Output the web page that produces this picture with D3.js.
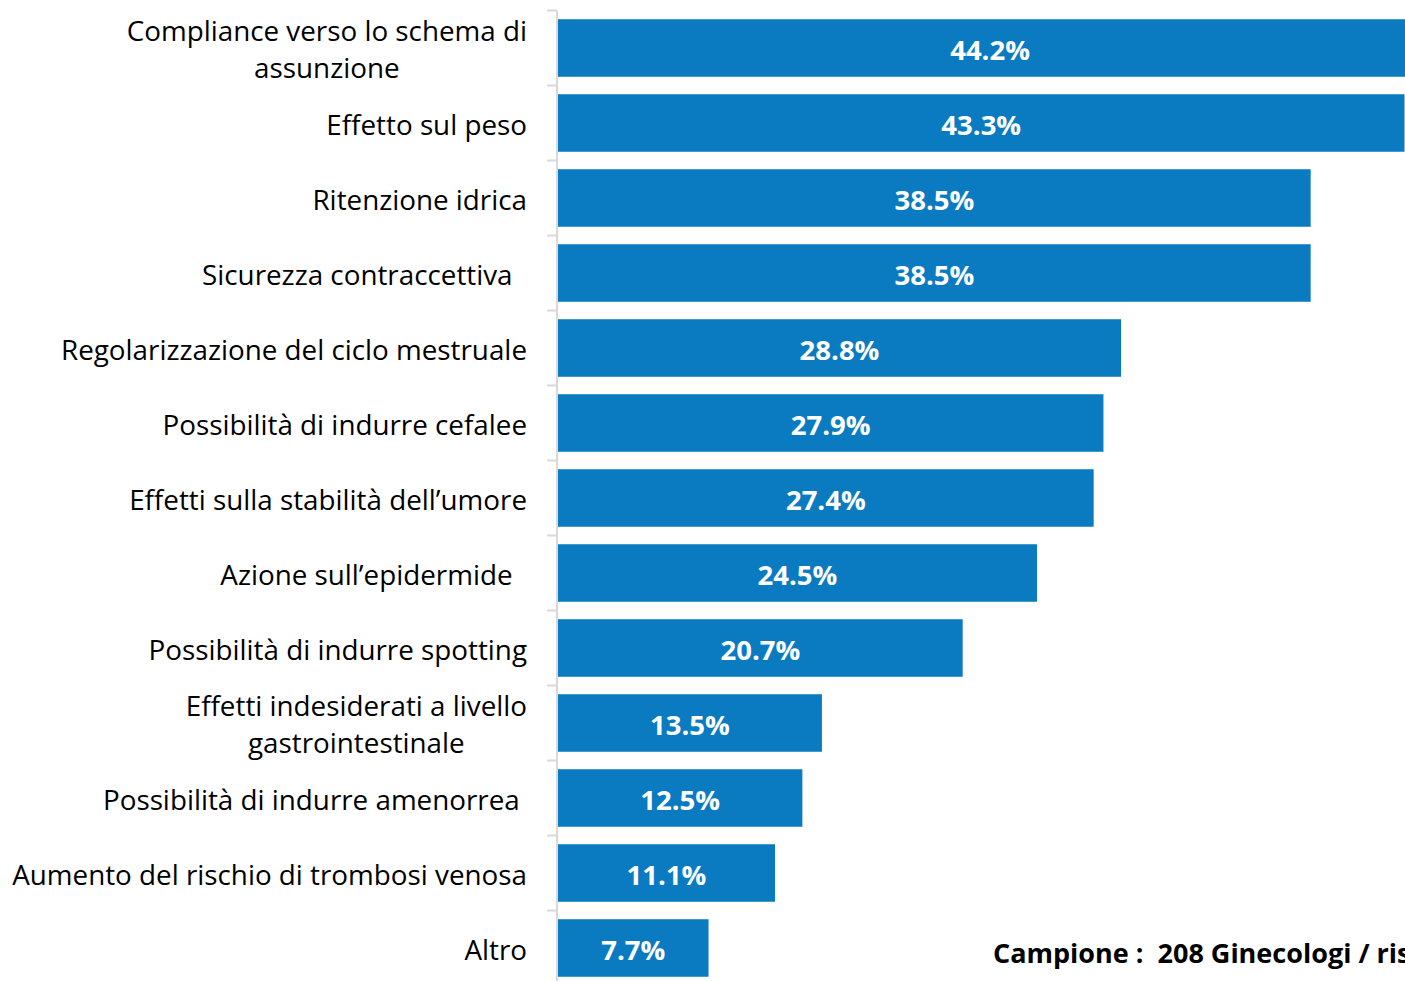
<!DOCTYPE html>
<html>
<head>
<meta charset="utf-8">
<script src="https://cdn.jsdelivr.net/npm/d3@7"></script>
<style>
  html, body { margin: 0; padding: 0; background: #fff; overflow: hidden; }
  svg { display: block; font-family: "Open Sans", "Noto Sans", sans-serif; }
  text { white-space: pre; }
</style>
</head>
<body>
<div id="chart"></div>
<script>
let width = 1405;
let height = 981;

// categories, top to bottom (\n = line break, trailing spaces kept as in the original)
let categories = [
    "Compliance verso lo schema di\nassunzione",
    "Effetto sul peso",
    "Ritenzione idrica",
    "Sicurezza contraccettiva  ",
    "Regolarizzazione del ciclo mestruale",
    "Possibilità di indurre cefalee",
    "Effetti sulla stabilità dell\u2019umore",
    "Azione sull\u2019epidermide  ",
    "Possibilità di indurre spotting",
    "Effetti indesiderati a livello\ngastrointestinale",
    "Possibilità di indurre amenorrea ",
    "Aumento del rischio di trombosi venosa",
    "Altro",
];
let values = [44.2, 43.3, 38.5, 38.5, 28.8, 27.9, 27.4, 24.5, 20.7, 13.5, 12.5, 11.1, 7.7];
let footnote = "Campione :  208 Ginecologi / rispondenti";

let barColour = "#0a7bc1";
let axisColour = "#d9d9d9";

let svg = d3.select("#chart").append("svg")
    .attr("width", width)
    .attr("height", height);

let x = d3.scaleLinear()
    .domain([0, 50])
    .range([558, 558 + 50 * 19.55]);

let y = d3.scaleBand()
    .domain(categories)
    .range([10.5, 10.5 + categories.length * 75])
    .paddingInner(0.233)
    .paddingOuter(0.1165);

// axis: vertical line plus ticks between categories
let axisX = x(0) - 1;
let gAxis = svg.append("g").attr("class", "axis");
gAxis.append("line")
    .attr("x1", axisX).attr("x2", axisX)
    .attr("y1", y.range()[0]).attr("y2", y.range()[1])
    .attr("stroke", axisColour).attr("stroke-width", 2);
let tickPos = categories.map(d => y(d) - y.step() * y.paddingOuter());
tickPos.push(y.range()[1]);
gAxis.selectAll(".tick")
    .data(tickPos)
    .enter().append("line")
    .attr("class", "tick")
    .attr("x1", axisX - 10).attr("x2", axisX)
    .attr("y1", d => d).attr("y2", d => d)
    .attr("stroke", axisColour).attr("stroke-width", 2);

// bars
svg.append("g").selectAll("rect")
    .data(values)
    .enter().append("rect")
    .attr("x", x(0))
    .attr("y", (d, i) => y(categories[i]))
    .attr("width", d => x(d) - x(0))
    .attr("height", y.bandwidth())
    .attr("fill", barColour);

// value labels
let fmt = d3.format(".1f");
svg.append("g").selectAll("text")
    .data(values)
    .enter().append("text")
    .attr("x", d => (x(0) + x(d)) / 2)
    .attr("y", (d, i) => y(categories[i]) + y.bandwidth() / 2)
    .attr("dy", "0.42em")
    .attr("text-anchor", "middle")
    .attr("fill", "#fff")
    .attr("font-weight", "bold")
    .attr("font-size", 27.5)
    .text(d => fmt(d) + "%");

// category labels: block right-aligned to the axis, lines centred inside the block
let labelRight = 527;
let lineHeight = 37.5;
let gLabels = svg.append("g");
categories.forEach(function (cat) {
    let lines = cat.split("\n");
    let cy = y(cat) + y.bandwidth() / 2;
    let t = gLabels.append("text")
        .attr("font-size", 27.8)
        .attr("fill", "#000");
    lines.forEach(function (line, j) {
        t.append("tspan")
            .attr("y", cy + (j - (lines.length - 1) / 2) * lineHeight)
            .attr("dy", "0.42em")
            .text(line);
    });
    if (lines.length === 1) {
        t.attr("text-anchor", "end").attr("x", labelRight);
        t.selectAll("tspan").attr("x", labelRight);
    } else {
        let widest = d3.max(t.selectAll("tspan").nodes(), n => n.getComputedTextLength());
        t.attr("text-anchor", "middle");
        t.selectAll("tspan").attr("x", labelRight - widest / 2);
    }
});

// footnote
svg.append("text")
    .attr("x", 993)
    .attr("y", 963)
    .attr("font-size", 27)
    .attr("font-weight", "bold")
    .attr("fill", "#000")
    .text(footnote);
</script>
</body>
</html>
